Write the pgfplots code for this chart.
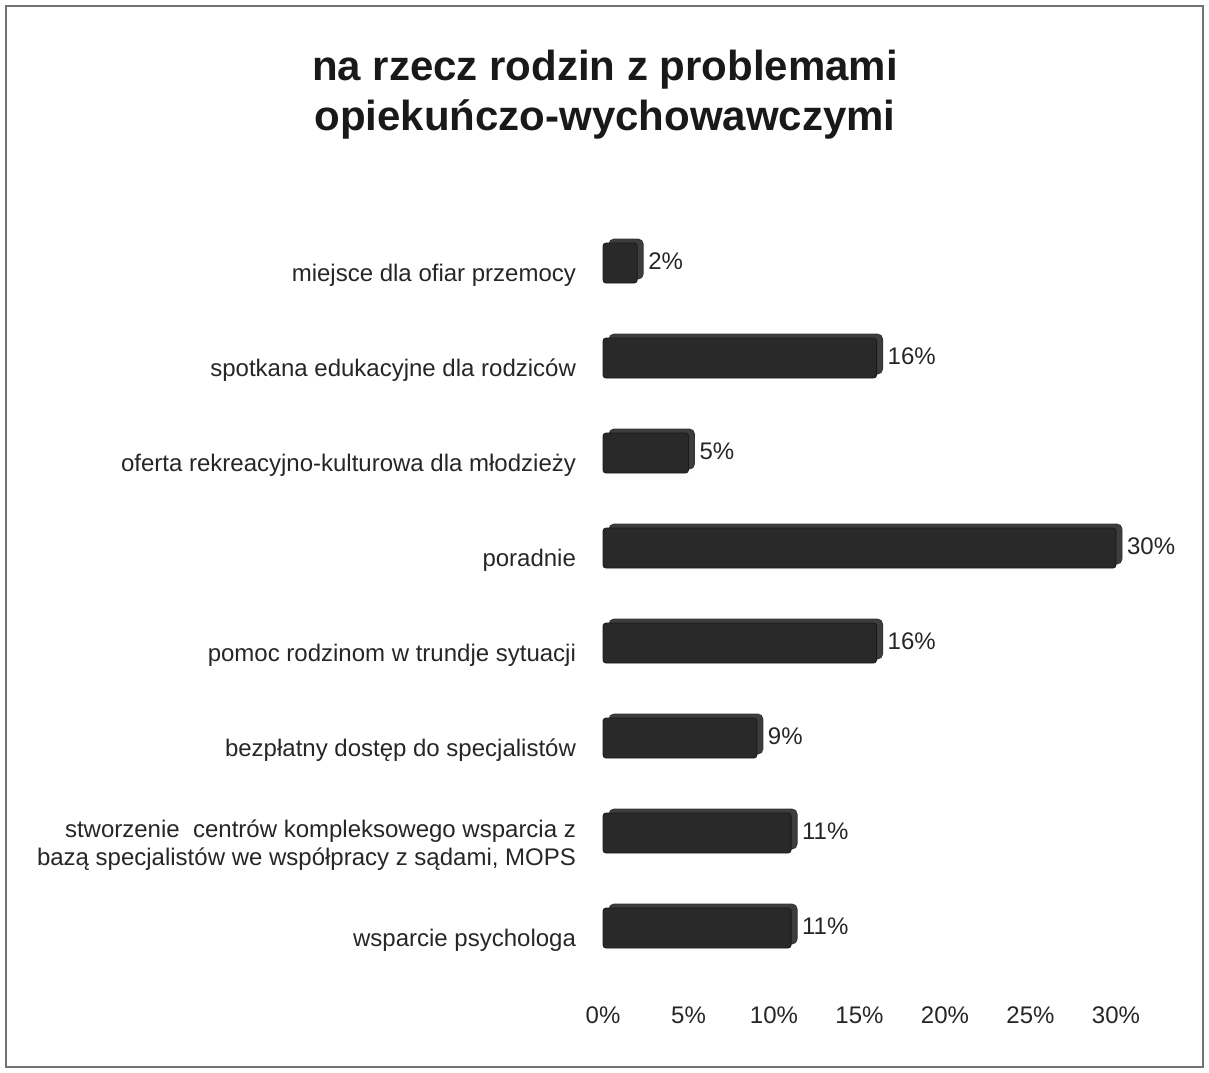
\documentclass[border=0pt]{standalone}
\usepackage{pgfplots}
\pgfplotsset{compat=1.18}
\usepackage{fontspec}
\setmainfont{Liberation Sans}
\begin{document}
\begin{tikzpicture}[x=1pt,y=1pt]
\useasboundingbox (0,0) rectangle (604.5,-536);
\draw[black!55, line width=1.2pt] (3,-3) rectangle (601.5,-533.5);
\node[font=\fontsize{21}{25}\selectfont\bfseries, align=center, text=black!90] at (302.5,-47.5) {na rzecz rodzin z problemami\\opiekuńczo-wychowawczymi};
\begin{axis}[
  at={(301.5pt,-487.75pt)}, anchor=south west,
  scale only axis, width=256.5pt, height=380pt,
  xmin=0, xmax=30, ymin=-0.5, ymax=7.5, y dir=reverse,
  xbar, bar width=20pt,
  axis line style={draw=none}, major tick length=0pt,
  clip=false,
  xtick={0,5,...,30},
  xticklabel={\pgfmathprintnumber{\tick}\%},
  /pgf/number format/assume math mode=true,
  xticklabel style={font=\fontsize{12}{14}\selectfont, text=black!85, yshift=-12pt},
  ytick={0,...,7},
  yticklabels={
    miejsce dla ofiar przemocy,
    spotkana edukacyjne dla rodziców,
    oferta rekreacyjno-kulturowa dla młodzieży,
    poradnie,
    pomoc rodzinom w trundje sytuacji,
    bezpłatny dostęp do specjalistów,
    {stworzenie\ \ centrów kompleksowego wsparcia z\\bazą specjalistów we współpracy z sądami, MOPS},
    wsparcie psychologa},
  yticklabel style={font=\fontsize{12}{14}\selectfont, align=right, text=black!85, xshift=-10pt, yshift=-6pt},
]
\addplot[forget plot, fill=black!76, draw=black!80, rounded corners=2.5pt, xshift=3pt, yshift=2pt] coordinates {
(2,0) (16,1) (5,2) (30,3) (16,4) (9,5) (11,6) (11,7)};
\addplot[fill=black!84, draw=black!90, rounded corners=1.5pt,
  point meta=x,
  nodes near coords={\pgfmathprintnumber{\pgfplotspointmeta}\%},
  nodes near coords style={font=\fontsize{12}{14}\selectfont, text=black!85, /pgf/number format/assume math mode=true, xshift=2pt, yshift=1pt}] coordinates {
(2,0) (16,1) (5,2) (30,3) (16,4) (9,5) (11,6) (11,7)};
\end{axis}
\end{tikzpicture}
\end{document}
